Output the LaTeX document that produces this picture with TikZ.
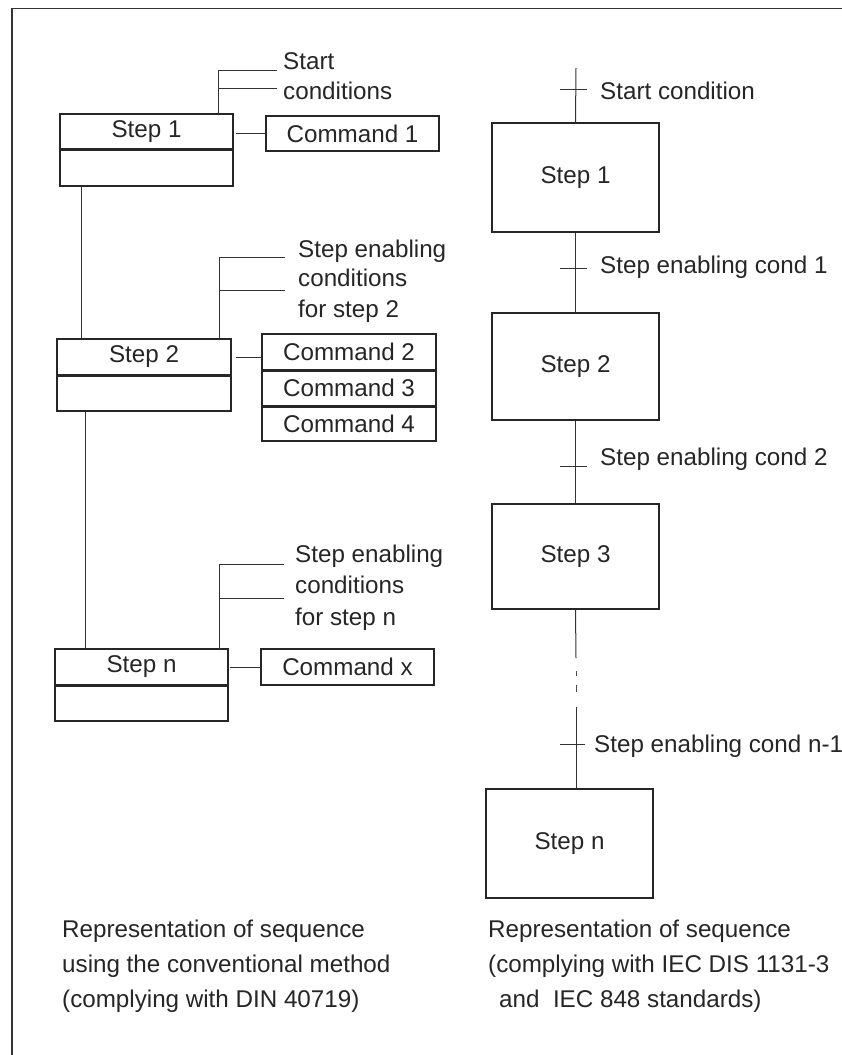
\documentclass[tikz,border=0pt]{standalone}
\usepackage{fontspec}
\setmainfont{Liberation Sans}
\begin{document}
\begin{tikzpicture}[x=1pt,y=-1pt,
  every node/.style={font=\fontsize{24.2}{29}\selectfont, text=black!85},
  cell/.style={draw=black!85, line width=1.2pt, inner sep=0pt, minimum width=#1},
  cell/.default=173,
  bigstep/.style={draw=black!85, line width=1.2pt, inner sep=0pt, minimum width=167, minimum height=#1},
  link/.style={draw=black!80, line width=1pt},
  lbl/.style={anchor=base west, inner sep=0pt},
  divider/.style={draw=black!85, line width=2.2pt}
]
\useasboundingbox (0,0) rectangle (842,1055);
\fill[white] (0,0) rectangle (842,1055);

% outer frame (top and left edges)
\draw[black!80, line width=1.8pt] (12,1055) -- (12,8.5) -- (842,8.5);

% ---------- conventional representation (DIN 40719) ----------
% step 1
\node[cell, minimum height=35] (s1)  at (146.5,131.5) {Step 1};
\node[cell, minimum height=37] (s1b) at (146.5,167.5) {};
\draw[divider] (s1.south west) -- (s1.south east);
\node[cell, minimum height=35] (c1) at (352.5,133.5) {Command 1};
\draw[link] ([xshift=2pt]s1.east |- c1.west) -- (c1.west);
% start conditions bracket
\coordinate (b1t) at (218,70);
\coordinate (b1m) at (218,88);
\draw[link] (b1t |- s1.north) -- (b1t) -- ++(59,0);
\draw[link] (b1m) -- ++(59,0);
\node[lbl] (t1a) at (283,69) {Start};
\node[lbl] (t1b) at (283,99) {conditions};

% step 2
\node[cell=174, minimum height=36] (s2)  at (144,357) {Step 2};
\node[cell=174, minimum height=36] (s2b) at (144,393) {};
\draw[divider] (s2.south west) -- (s2.south east);
\node[cell=174, minimum height=36] (c2) at (349,352) {Command 2};
\node[cell=174, minimum height=36] (c3) at (349,388) {Command 3};
\node[cell=174, minimum height=35] (c4) at (349,423.5) {Command 4};
\draw[divider] (c2.south west) -- (c2.south east);
\draw[divider] (c3.south west) -- (c3.south east);
\draw[link] ([xshift=4pt]s2.east) -- (s2.east -| c2.west);
% step enabling conditions bracket for step 2
\coordinate (b2t) at (219,257);
\coordinate (b2m) at (219,290);
\draw[link] (b2t |- s2.north) -- (b2t) -- ++(66,0);
\draw[link] (b2m) -- ++(66,0);
\node[lbl] (t2a) at (298,257) {Step enabling};
\node[lbl] (t2b) at (298,286) {conditions};
\node[lbl] (t2c) at (298,317) {for step 2};

% step n
\node[cell, minimum height=36] (sn)  at (141.5,667) {Step n};
\node[cell, minimum height=36] (snb) at (141.5,703) {};
\draw[divider] (sn.south west) -- (sn.south east);
\node[cell, minimum height=36] (cx) at (347.5,667) {Command x};
\draw[link] ([xshift=1pt]sn.east) -- (cx.west);
% step enabling conditions bracket for step n
\coordinate (bnt) at (219,564);
\coordinate (bnm) at (219,598);
\draw[link] ([yshift=-2pt]bnt |- sn.north) -- (bnt) -- ++(65,0);
\draw[link] (bnm) -- ++(65,0);
\node[lbl] (tna) at (295,562) {Step enabling};
\node[lbl] (tnb) at (295,593) {conditions};
\node[lbl] (tnc) at (295,625) {for step n};

% sequence links
\draw[link] ([xshift=22pt]s1b.south west) -- ([xshift=22pt]s1b.south west |- s2.north);
\draw[link] ([xshift=29pt]s2b.south west) -- ([xshift=29pt]s2b.south west |- sn.north);

% ---------- IEC representation ----------
\node[bigstep=109] (r1) at (575.5,177.5) {Step 1};
\node[bigstep=107] (r2) at (575.5,366.5) {Step 2};
\node[bigstep=105] (r3) at (575.5,556.5) {Step 3};
\node[bigstep=109] (rn) at (569.5,843.5) {Step n};

\coordinate (rtop) at (576,68);
\coordinate (gapA) at (576,658);
\coordinate (gapB) at (576,707);
\draw[link] (rtop) -- (r1.north);
\draw[link] (r1.south) -- (r2.north);
\draw[link] (r2.south) -- (r3.north);
\draw[link] (r3.south) -- (gapA);
\draw[black!70, line width=0.9pt] (576,671) -- (576,676);
\draw[black!70, line width=0.9pt] (576,685) -- (576,692);
\draw[link] (gapB) -- (gapB |- rn.north);

% transition bars
\draw[link] (560,89) -- (587,89);
\draw[link] (560,268) -- (587,268);
\draw[link] (560,466) -- (587,466);
\draw[link] (560,744) -- (585,744);

\node[lbl] (tr0) at (600,99)  {Start condition};
\node[lbl] (tr1) at (600,273) {Step enabling cond 1};
\node[lbl] (tr2) at (600,465) {Step enabling cond 2};
\node[lbl] (trn) at (594,752) {Step enabling cond n-1};

% ---------- captions ----------
\node[lbl] (capL1) at (62,937)  {Representation of sequence};
\node[lbl] (capL2) at (62,972)  {using the conventional method};
\node[lbl] (capL3) at (62,1007) {(complying with DIN 40719)};
\node[lbl] (capR1) at (488,937)  {Representation of sequence};
\node[lbl] (capR2) at (488,972)  {(complying with IEC DIS 1131-3};
\node[lbl] (capR3) at (499,1007) {and\ \ IEC 848 standards)};
\end{tikzpicture}
\end{document}
